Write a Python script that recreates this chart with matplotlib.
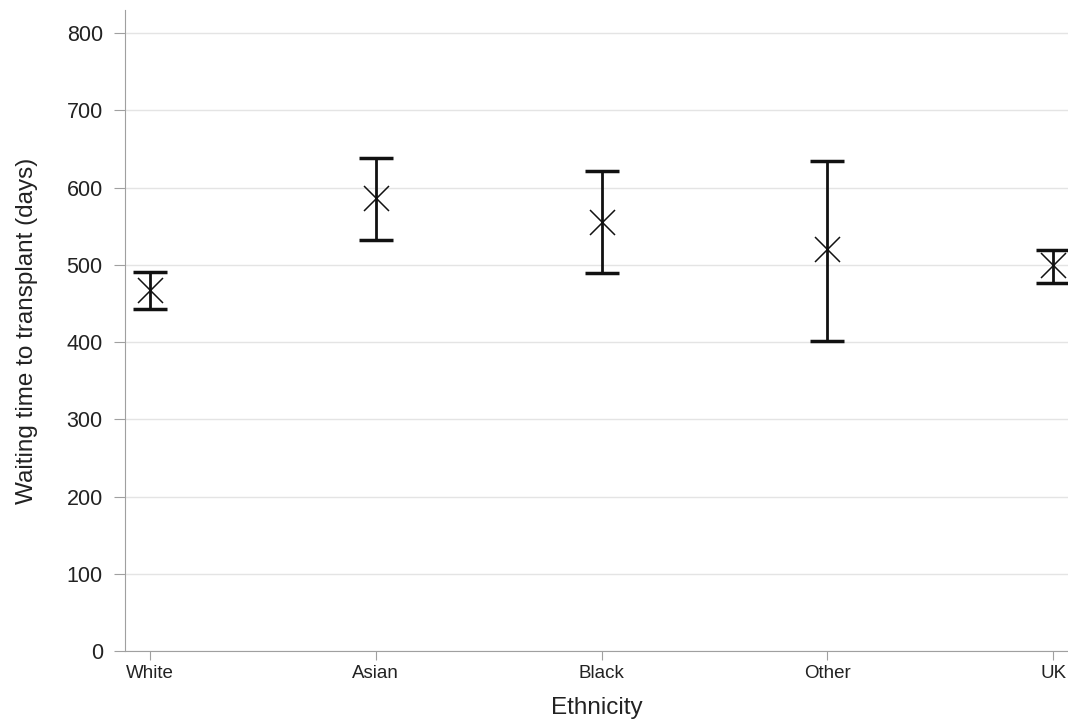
import numpy as np
import matplotlib.pyplot as plt

plt.rcParams['font.family'] = ['Liberation Sans', 'DejaVu Sans']

groups = ["White", "Asian", "Black", "Other", "UK"]
mean_days = [467, 586, 555, 520, 500]
lower_ci = [443, 532, 489, 401, 477]
upper_ci = [491, 638, 621, 634, 519]

fig = plt.figure(figsize=(10.68, 7.26), dpi=100)
ax = fig.add_axes([125 / 1068, 75 / 726, 943 / 1068, 641 / 726])

x = np.arange(len(groups))
mean = np.array(mean_days)
yerr = [mean - np.array(lower_ci), np.array(upper_ci) - mean]

ax.errorbar(x, mean, yerr=yerr, fmt="none", ecolor="#111111", elinewidth=2,
            capsize=12, capthick=2.5, zorder=3)
ax.plot(x, mean, linestyle="none", marker="x", markersize=18,
        markeredgewidth=1.1, color="#111111", zorder=4)

ax.set_xlim(-0.111, 4.066)
ax.set_ylim(0, 830)
ax.set_yticks(np.arange(0, 801, 100))
ax.set_xticks(x)
ax.set_xticklabels(groups, fontsize=13.5)
ax.tick_params(axis="y", labelsize=15.5, length=8, pad=8, color="#a0a0a0",
               labelcolor="#222222")
ax.tick_params(axis="x", length=6.5, pad=3.5, color="#a0a0a0",
               labelcolor="#222222")
ax.grid(axis="y", color="#e4e4e4", linewidth=1)
ax.set_axisbelow(True)

for side in ["top", "right"]:
    ax.spines[side].set_visible(False)
for side in ["left", "bottom"]:
    ax.spines[side].set_color("#a0a0a0")

ax.set_xlabel("Ethnicity", fontsize=17.5, color="#222222")
ax.set_ylabel("Waiting time to transplant (days)", fontsize=17.5, color="#222222")
ax.xaxis.set_label_coords(0.5, -0.072)
ax.yaxis.set_label_coords(-0.092, 0.5)

fig.savefig("out.png", dpi=100)
